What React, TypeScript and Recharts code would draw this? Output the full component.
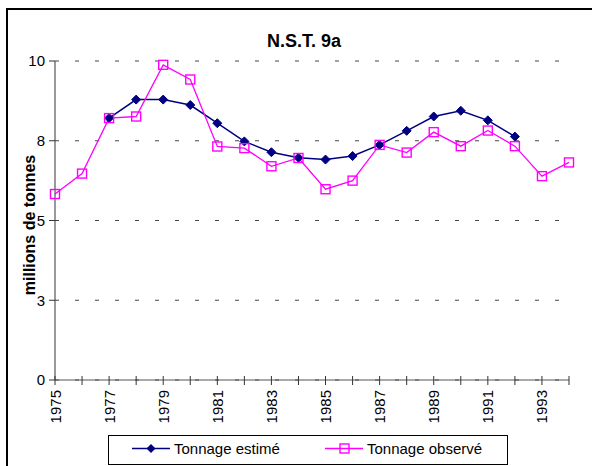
import { LineChart, Line, XAxis, YAxis, CartesianGrid } from 'recharts';

const years = [1975, 1976, 1977, 1978, 1979, 1980, 1981, 1982, 1983, 1984, 1985, 1986, 1987, 1988, 1989, 1990, 1991, 1992, 1993, 1994];
const estimated = [null, null, 8.21, 8.79, 8.79, 8.62, 8.05, 7.48, 7.14, 6.97, 6.91, 7.02, 7.37, 7.81, 8.26, 8.44, 8.14, 7.63, null, null];
const observed = [5.83, 6.47, 8.21, 8.26, 9.88, 9.42, 7.32, 7.27, 6.70, 6.96, 5.98, 6.25, 7.37, 7.13, 7.77, 7.33, 7.82, 7.33, 6.39, 6.82];
const yTicks = [0, 2.5, 5, 7.5, 10];

const data = years.map((year, i) => ({ year, estimated: estimated[i], observed: observed[i] }));

const FONT = '"Liberation Sans", Arial, sans-serif';
const NAVY = '#000080';
const MAGENTA = '#FF00FF';

function Diamond(props: any) {
  const { cx, cy, index } = props;
  if (cx == null || cy == null || props.value == null) return <g key={'d' + index} />;
  const r = 4.5;
  return (
    <polygon
      key={'d' + index}
      points={`${cx},${cy - r} ${cx + r},${cy} ${cx},${cy + r} ${cx - r},${cy}`}
      fill={NAVY}
      stroke={NAVY}
      strokeWidth={1}
    />
  );
}

function Square(props: any) {
  const { cx, cy, index } = props;
  if (cx == null || cy == null) return <g key={'s' + index} />;
  return <rect key={'s' + index} x={cx - 4.5} y={cy - 4.5} width={9} height={9} fill="none" stroke={MAGENTA} strokeWidth={1.4} />;
}

function YearTick(props: any) {
  const { x, y, payload, index } = props;
  return (
    <g>
      <line x1={x} x2={x} y1={y - 4} y2={y + 5} stroke="#333" strokeWidth={1} />
      {index % 2 === 0 && (
        <text
          transform={`translate(${x + 5.5}, ${y + 10}) rotate(-90)`}
          textAnchor="end"
          fontSize={15}
          fontFamily={FONT}
          fill="#000"
        >
          {payload.value}
        </text>
      )}
    </g>
  );
}

export default function App() {
  return (
    <div style={{ position: 'absolute', left: 0, top: 0, width: 592, height: 466, overflow: 'hidden', background: '#fff' }}>
      <div style={{ position: 'absolute', left: 6, top: 8, width: 640, height: 520, border: '2px solid #000' }} />
      <div style={{ position: 'absolute', left: 0, top: 0 }}>
        <LineChart width={592} height={466} data={data} margin={{ top: 61, right: 23, left: 0, bottom: 0 }}>
          <CartesianGrid vertical={false} stroke="#444" strokeDasharray="4 16" />
          <XAxis
            dataKey="year"
            interval={0}
            tickLine={false}
            tickSize={0}
            tickMargin={0}
            height={86}
            axisLine={{ stroke: '#555', strokeWidth: 1.2 }}
            tick={<YearTick />}
          />
          <YAxis
            width={55}
            domain={[0, 10]}
            ticks={yTicks}
            tickFormatter={(v: number) => String(Math.round(v))}
            tickSize={6}
            tickMargin={4}
            tickLine={{ stroke: '#333' }}
            axisLine={{ stroke: '#555', strokeWidth: 1.2 }}
            tick={{ fill: '#000', fontSize: 15, fontFamily: FONT }}
          />
          <Line
            dataKey="estimated"
            stroke={NAVY}
            strokeWidth={1.5}
            dot={<Diamond />}
            connectNulls={false}
            isAnimationActive={false}
          />
          <Line
            dataKey="observed"
            stroke={MAGENTA}
            strokeWidth={1.3}
            dot={<Square />}
            isAnimationActive={false}
          />
        </LineChart>
      </div>
      <svg width={592} height={466} style={{ position: 'absolute', left: 0, top: 0, pointerEvents: 'none' }}>
        <text x={304} y={47} textAnchor="middle" fontFamily={FONT} fontWeight="bold" fontSize={18} fill="#000">
          N.S.T. 9a
        </text>
        <text
          transform="translate(35, 225) rotate(-90)"
          textAnchor="middle"
          fontFamily={FONT}
          fontWeight="bold"
          fontSize={16}
          fill="#000"
        >
          millions de tonnes
        </text>
      </svg>
      <div
        style={{
          position: 'absolute',
          left: 108,
          top: 435,
          width: 400,
          height: 30,
          boxSizing: 'border-box',
          border: '1px solid #000',
          background: '#fff',
        }}
      >
        <svg width={398} height={28} style={{ display: 'block' }}>
          <line x1={23} x2={61} y1={12.5} y2={12.5} stroke={NAVY} strokeWidth={1.5} />
          <polygon points="42,8 46.5,12.5 42,17 37.5,12.5" fill={NAVY} />
          <text x={65} y={18} fontFamily={FONT} fontSize={15} fill="#000">
            Tonnage estimé
          </text>
          <line x1={216} x2={254} y1={12.5} y2={12.5} stroke={MAGENTA} strokeWidth={1.3} />
          <rect x={231} y={8} width={9} height={9} fill="none" stroke={MAGENTA} strokeWidth={1.4} />
          <text x={258} y={18} fontFamily={FONT} fontSize={15} fill="#000">
            Tonnage observé
          </text>
        </svg>
      </div>
    </div>
  );
}
